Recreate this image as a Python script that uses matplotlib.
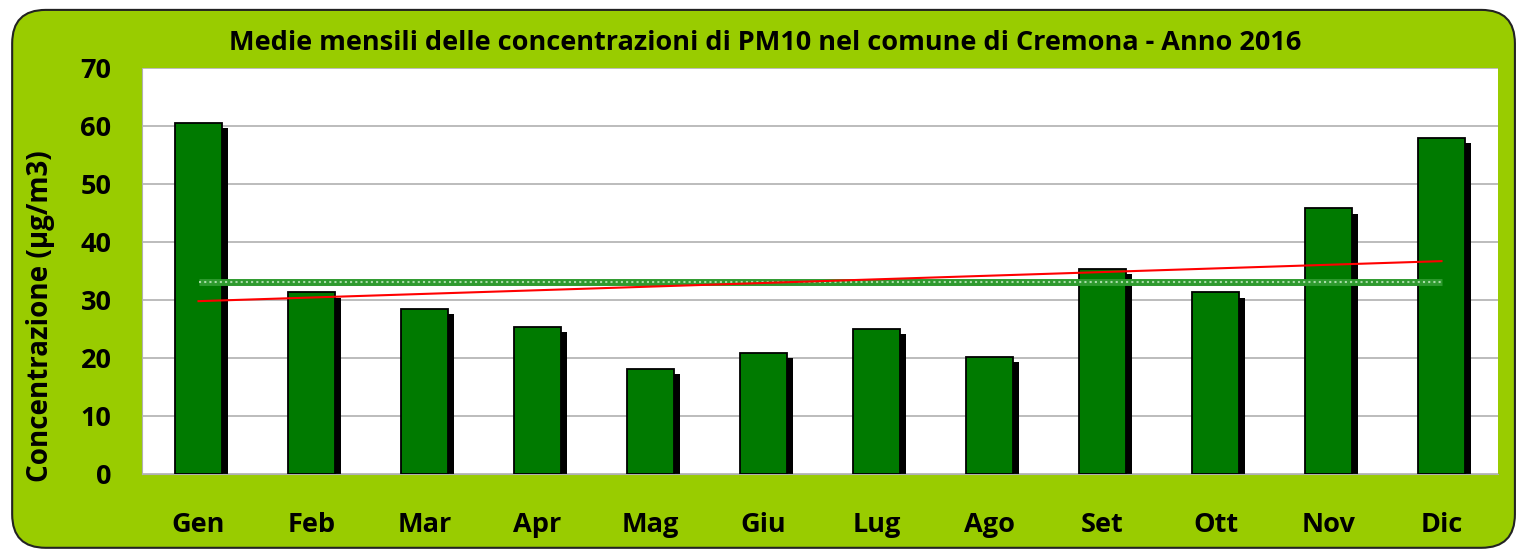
import matplotlib.pyplot as plt
from matplotlib.patches import FancyBboxPatch
import numpy as np

plt.rcParams['font.family'] = ['Open Sans', 'DejaVu Sans']

mesi = ['Gen', 'Feb', 'Mar', 'Apr', 'Mag', 'Giu', 'Lug', 'Ago', 'Set', 'Ott', 'Nov', 'Dic']
pm10 = [60.6, 31.3, 28.5, 25.4, 18.1, 20.9, 25.0, 20.2, 35.4, 31.3, 45.8, 57.9]
media_annua = 33.1
tendenza = [29.8, 36.7]  # valori iniziale / finale della retta di tendenza
yticks = [0, 10, 20, 30, 40, 50, 60, 70]

fig = plt.figure(figsize=(15.21, 5.5), dpi=100)
fig.patch.set_facecolor('white')

# sfondo verde arrotondato
bg = FancyBboxPatch((0.008, 0.004), 0.988, 0.978, boxstyle='round,pad=0,rounding_size=0.022',
                    transform=fig.transFigure, facecolor='#99CC00', edgecolor='#222222',
                    linewidth=1.5, mutation_aspect=15.21 / 5.5, zorder=-5)
fig.patches.append(bg)

ax = fig.add_axes([142 / 1521, 1 - 474 / 550, (1498 - 142) / 1521, (474 - 68) / 550])
ax.set_zorder(2)
ax.set_facecolor('white')

x = np.arange(len(mesi))
w = 0.41
# ombra
ax.bar(x + 0.055, pm10, width=w, bottom=-0.9, color='black', zorder=2)
ax.bar(x, pm10, width=w, color='#007A00', edgecolor='black', linewidth=1.3, zorder=3)

# media annua
ax.plot([x[0], x[-1]], [media_annua, media_annua], color='#2E9A2E', lw=5, zorder=4, solid_capstyle='butt')
ax.plot([x[0], x[-1]], [media_annua, media_annua], color='#A8DCA8', lw=1.5, ls=(0, (1, 1.5)), zorder=5)
# tendenza
ax.plot([x[0], x[-1]], tendenza, color='#FF0000', lw=1.5, zorder=6)

ax.set_xlim(-0.5, len(mesi) - 0.5)
ax.set_ylim(0, 70)
ax.set_yticks(yticks)
ax.set_yticklabels([str(v) for v in yticks], fontsize=19.5, fontweight='bold')
ax.set_xticks(x)
ax.set_xticklabels(mesi, fontsize=19.5, fontweight='bold')
ax.tick_params(axis='both', length=0)
ax.tick_params(axis='x', pad=27)
ax.tick_params(axis='y', pad=22)
ax.grid(axis='y', color='#B0B0B0', lw=1.2, zorder=1)
ax.set_axisbelow(True)
for s in ['top', 'right']:
    ax.spines[s].set_visible(False)
ax.spines['bottom'].set_color('#B0B0B0')
ax.spines['left'].set_color('#B0B0B0')

ax.set_ylabel('Concentrazione (µg/m3)', fontsize=20, fontweight='bold', va='center')
ax.yaxis.set_label_coords(-0.075, 0.39)

fig.text(0.503, 0.922, 'Medie mensili delle concentrazioni di PM10 nel comune di Cremona - Anno 2016',
         ha='center', va='center', fontsize=19.5, fontweight='bold')

fig.savefig('out.png', dpi=100)
